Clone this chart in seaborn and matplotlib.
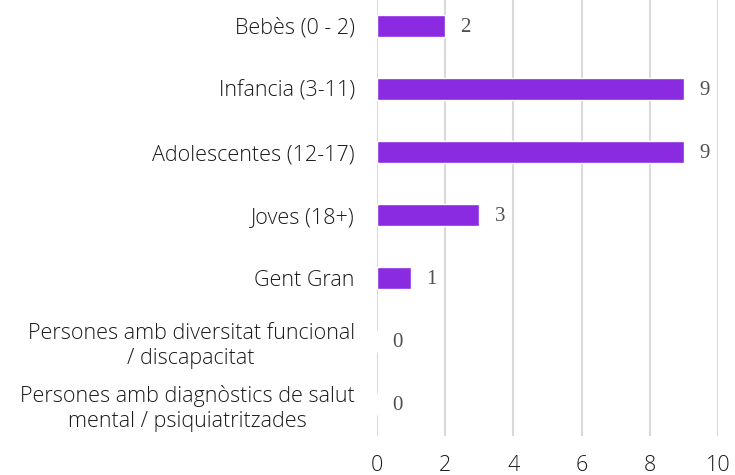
import matplotlib
matplotlib.use("Agg")
import matplotlib.pyplot as plt
import seaborn as sns
import pandas as pd

categories = [
    "Bebès (0 - 2)",
    "Infancia (3-11)",
    "Adolescentes (12-17)",
    "Joves (18+)",
    "Gent Gran",
    "Persones amb diversitat funcional\n/ discapacitat",
    "Persones amb diagnòstics de salut\nmental / psiquiatritzades",
]
values = [2, 9, 9, 3, 1, 0, 0]
xticks = [0, 2, 4, 6, 8, 10]

df = pd.DataFrame({"cat": categories, "val": values})

sns.set_theme(style="white")
plt.rcParams["font.family"] = ["Open Sans", "DejaVu Sans"]

fig = plt.figure(figsize=(7.35, 4.75), dpi=100)
ax = fig.add_axes([377 / 735, 1 - 435.5 / 475, (718 - 377) / 735, 441 / 475])

sns.barplot(data=df, y="cat", x="val", orient="h", color="#8A2BE2",
            saturation=1, width=0.35, ax=ax)

ax.set_xlim(0, 10)
ax.set_ylim(6.5, -0.5)
ax.set_xticks(xticks)
ax.set_xticklabels([str(t) for t in xticks], fontsize=15.5, color="#1a1a1a")
ax.tick_params(axis="x", length=0, pad=14)
ax.tick_params(axis="y", length=0, pad=16)
for lab in ax.get_yticklabels():
    lab.set_fontsize(15.5)
    lab.set_fontweight("light")
    lab.set_color("#1a1a1a")
    lab.set_multialignment("center")
    lab.set_linespacing(1.25)
for lab in ax.get_xticklabels():
    lab.set_fontweight("light")
ax.set_xlabel("")
ax.set_ylabel("")
for s in ax.spines.values():
    s.set_visible(False)
ax.grid(axis="x", color="#d9d9d9", linewidth=1.5)
ax.set_axisbelow(True)

for i, v in enumerate(values):
    ax.annotate(str(v), xy=(v, i), xytext=(11, -1), textcoords="offset points",
                ha="left", va="center", fontsize=15, color="#505050",
                family="Liberation Serif")

fig.savefig("out.png", dpi=100)
